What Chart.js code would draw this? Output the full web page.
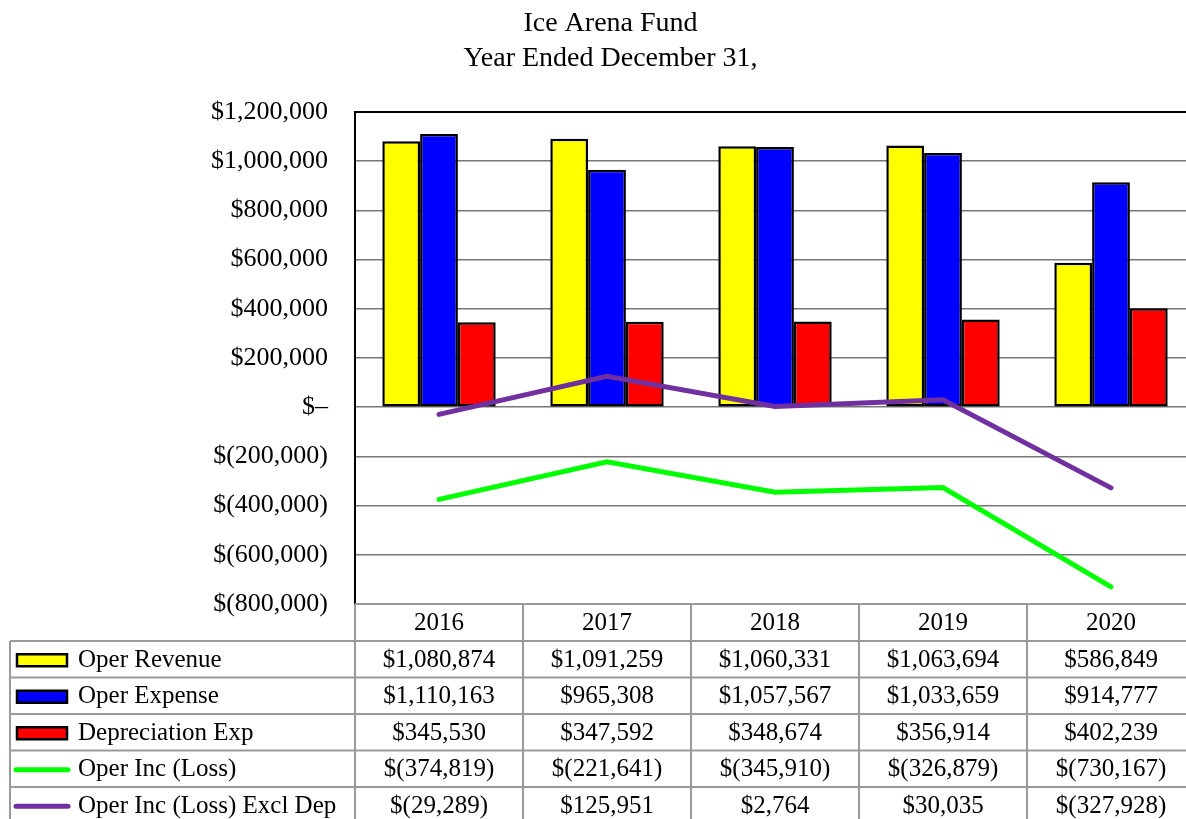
<!DOCTYPE html>
<html>
<head>
<meta charset="utf-8">
<title>Ice Arena Fund</title>
<script src="https://cdn.jsdelivr.net/npm/chart.js@4/dist/chart.umd.min.js"></script>
<style>
  html, body { margin: 0; padding: 0; background: #fff; overflow: hidden; }
  #wrap { width: 1220px; height: 819px; }
</style>
</head>
<body>
<div id="wrap"><canvas id="arenaChart" width="1220" height="819"></canvas></div>
<script>
// Ice Arena Fund — year ended December 31
const years = ['2016', '2017', '2018', '2019', '2020'];
const operRevenue = [1080874, 1091259, 1060331, 1063694, 586849];
const operExpense = [1110163, 965308, 1057567, 1033659, 914777];
const deprExp = [345530, 347592, 348674, 356914, 402239];
const operInc = [-374819, -221641, -345910, -326879, -730167];
const operIncExclDep = [-29289, 125951, 2764, 30035, -327928];

const seriesNames = ['Oper Revenue', 'Oper Expense', 'Depreciation Exp', 'Oper Inc (Loss)', 'Oper Inc (Loss) Excl Dep'];
const seriesColors = ['#FFFF00', '#0000FF', '#FF0000', '#00FF00', '#7030A0'];
const seriesData = [operRevenue, operExpense, deprExp, operInc, operIncExclDep];

const serif = '"Liberation Serif", "Times New Roman", serif';

function money(v) {
  if (v === 0) return '$\u2013';
  const s = Math.abs(v).toLocaleString('en-US');
  return v < 0 ? '$(' + s + ')' : '$' + s;
}

// draws the frame line on top and the data table under the plot
const dataTable = {
  id: 'dataTable',
  afterDraw(chart) {
    const ctx = chart.ctx;
    const area = chart.chartArea;
    const x = chart.scales.x;
    const catW = x.getPixelForValue(1) - x.getPixelForValue(0);
    const headerH = 37;
    const rowH = 36.5;
    const tableLeft = 10;
    const top = area.bottom;
    const right = x.getPixelForValue(years.length - 1) + catW / 2;

    ctx.save();
    // top frame of plot
    ctx.strokeStyle = '#000';
    ctx.lineWidth = 2;
    ctx.beginPath();
    ctx.moveTo(area.left, area.top);
    ctx.lineTo(chart.width, area.top);
    ctx.stroke();

    // grid of the table
    ctx.strokeStyle = '#9a9a9a';
    ctx.lineWidth = 2;
    ctx.beginPath();
    ctx.moveTo(area.left, top);
    ctx.lineTo(right, top);
    for (let r = 0; r <= seriesNames.length; r++) {
      const y = top + headerH + r * rowH;
      ctx.moveTo(tableLeft, y);
      ctx.lineTo(right, y);
    }
    ctx.moveTo(tableLeft, top + headerH);
    ctx.lineTo(tableLeft, chart.height);
    for (let i = 0; i <= years.length; i++) {
      const cx = area.left + i * catW;
      ctx.moveTo(cx, top);
      ctx.lineTo(cx, chart.height);
    }
    ctx.stroke();

    ctx.fillStyle = '#000';
    ctx.font = '25px ' + serif;
    ctx.textBaseline = 'middle';
    ctx.textAlign = 'center';
    years.forEach((yr, i) => {
      ctx.fillText(yr, x.getPixelForValue(i), top + headerH / 2 + 1);
    });

    seriesNames.forEach((name, r) => {
      const cy = top + headerH + r * rowH + rowH / 2 + 1;
      // legend key
      if (r < 3) {
        ctx.fillStyle = seriesColors[r];
        ctx.fillRect(17, cy - 6, 50, 12);
        ctx.strokeStyle = '#000';
        ctx.lineWidth = 2.5;
        ctx.strokeRect(17, cy - 6, 50, 12);
      } else {
        ctx.strokeStyle = seriesColors[r];
        ctx.lineWidth = 5;
        ctx.lineCap = 'round';
        ctx.beginPath();
        ctx.moveTo(16, cy);
        ctx.lineTo(68, cy);
        ctx.stroke();
      }
      ctx.fillStyle = '#000';
      ctx.textAlign = 'left';
      ctx.fillText(name, 78, cy);
      ctx.textAlign = 'center';
      seriesData[r].forEach((v, i) => {
        ctx.fillText(money(v), x.getPixelForValue(i), cy);
      });
    });
    ctx.restore();
  }
};

const barBase = { borderColor: '#000', borderWidth: 2.5, borderSkipped: false, order: 2 };
const lineBase = { type: 'line', borderWidth: 5, pointRadius: 0, tension: 0, borderCapStyle: 'round', fill: false, order: 1 };

new Chart(document.getElementById('arenaChart'), {
  type: 'bar',
  data: {
    labels: years,
    datasets: [
      { ...barBase, label: seriesNames[0], data: operRevenue, backgroundColor: seriesColors[0] },
      { ...barBase, label: seriesNames[1], data: operExpense, backgroundColor: seriesColors[1] },
      { ...barBase, label: seriesNames[2], data: deprExp, backgroundColor: seriesColors[2] },
      { ...lineBase, label: seriesNames[3], data: operInc, borderColor: seriesColors[3] },
      { ...lineBase, label: seriesNames[4], data: operIncExclDep, borderColor: seriesColors[4] }
    ]
  },
  options: {
    responsive: false,
    animation: false,
    layout: { padding: { left: 26, right: 25, top: 0, bottom: 215 } },
    datasets: { bar: { categoryPercentage: 0.675, barPercentage: 1 } },
    plugins: {
      legend: { display: false },
      tooltip: { enabled: false },
      title: {
        display: true,
        text: ['Ice Arena Fund', 'Year Ended December 31,'],
        color: '#000',
        font: { family: serif, size: 28, weight: 'normal', lineHeight: 1.25 },
        padding: { top: 6, bottom: 36 }
      }
    },
    scales: {
      x: { display: false },
      y: {
        min: -800000,
        max: 1200000,
        afterFit: (scale) => { scale.width = 329; },
        border: { color: '#000', width: 2 },
        grid: { color: '#777', lineWidth: 1.5, drawTicks: false },
        ticks: {
          stepSize: 200000,
          padding: 27,
          color: '#000',
          font: { family: serif, size: 26 },
          callback: (v) => money(v)
        }
      }
    }
  },
  plugins: [dataTable]
});
</script>
</body>
</html>
